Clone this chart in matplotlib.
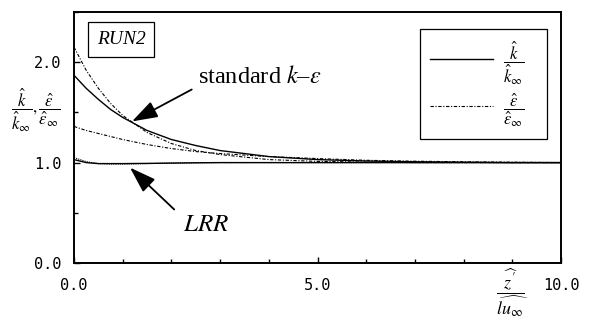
import numpy as np
import matplotlib.pyplot as plt
from matplotlib.ticker import MultipleLocator

plt.rcParams['mathtext.fontset'] = 'stix'

# distance from the wall, z'/lu_inf
x = [0, 0.25, 0.5, 0.75, 1.0, 1.5, 2.0, 2.5, 3.0, 4.0, 5.0, 6.0, 7.0, 8.0, 9.0, 10.0]

# standard k-eps model
std_k = [1.87, 1.74, 1.63, 1.53, 1.45, 1.32, 1.23, 1.17, 1.12, 1.06, 1.03, 1.016, 1.008, 1.004, 1.0, 1.0]
std_eps = [2.15, 1.92, 1.74, 1.59, 1.47, 1.30, 1.19, 1.12, 1.08, 1.03, 1.012, 1.005, 1.0, 1.0, 1.0, 1.0]
mid_eps = [1.36, 1.32, 1.29, 1.26, 1.23, 1.18, 1.14, 1.11, 1.09, 1.06, 1.04, 1.023, 1.014, 1.008, 1.004, 1.0]

# LRR model
lrr_k = [1.03, 1.0, 0.99, 0.99, 0.99, 0.992, 0.995, 0.998, 1.0, 1.0, 1.0, 1.0, 1.0, 1.0, 1.0, 1.0]
lrr_eps = [1.05, 1.01, 0.99, 0.985, 0.985, 0.99, 0.995, 0.998, 1.0, 1.0, 1.0, 1.0, 1.0, 1.0, 1.0, 1.0]

fig = plt.figure(figsize=(5.91, 3.22), dpi=100)
ax = fig.add_axes([74/591, 59/322, 487/591, 251/322])

ln_k, = ax.plot(x, std_k, color='black', lw=1.0)
ln_e, = ax.plot(x, std_eps, color='black', lw=0.8, ls=(0, (3, 1.5, 1, 1.5)))
ax.plot(x, mid_eps, color='black', lw=0.8, ls=(0, (3, 1.5, 1, 1.5)))
ax.plot(x, lrr_k, color='black', lw=1.0)
ax.plot(x, lrr_eps, color='black', lw=0.8, ls=(0, (1, 1)))

ax.set_xlim(0, 10)
ax.set_ylim(0, 2.5)
ax.xaxis.set_major_locator(MultipleLocator(5))
ax.xaxis.set_minor_locator(MultipleLocator(1))
ax.yaxis.set_major_locator(MultipleLocator(1))
ax.yaxis.set_minor_locator(MultipleLocator(0.5))
ax.tick_params(which='both', direction='in', width=1.0)
ax.tick_params(which='major', length=4)
ax.tick_params(which='minor', length=3)
ax.tick_params(axis='x', pad=11)
ax.tick_params(axis='y', pad=9)
ax.set_xticks([0, 5, 10])
ax.set_xticklabels(['0.0', '5.0', '10.0'])
ax.set_yticks([0, 1, 2])
ax.set_yticklabels(['0.0', '1.0', '2.0'])
for lab in ax.get_xticklabels() + ax.get_yticklabels():
    lab.set_fontfamily('DejaVu Sans Mono')
    lab.set_fontsize(11)
for s in ax.spines.values():
    s.set_linewidth(1.4)

# axis labels
ax.text(-0.078, 0.61, r'$\dfrac{\hat{k}}{\hat{k}_\infty},\dfrac{\hat{\varepsilon}}{\hat{\varepsilon}_\infty}$',
        transform=ax.transAxes, ha='center', va='center', fontsize=12)
ax.text(0.90, -0.12, r'$\dfrac{\widehat{z^{\prime}}}{\widehat{lu_\infty}}$',
        transform=ax.transAxes, ha='center', va='center', fontsize=13)

# run label
ax.text(0.047, 0.89, 'RUN2', transform=ax.transAxes, fontsize=14,
        family='Liberation Serif', style='italic', va='center', ha='left',
        bbox=dict(boxstyle='square,pad=0.45', fc='white', ec='black', lw=0.9))

# annotations
ax.annotate(r'standard $k$–$\varepsilon$', xy=(1.19, 1.41), xytext=(2.55, 1.85),
            fontsize=17.5, family='Liberation Serif', ha='left', va='center',
            arrowprops=dict(arrowstyle='-|>,head_length=0.9,head_width=0.3',
                            color='black', lw=1.3, shrinkA=3, shrinkB=0,
                            relpos=(0, 0.1)))
ax.annotate(r'$LRR$', xy=(1.15, 0.95), xytext=(2.24, 0.39),
            fontsize=18, ha='left', va='center',
            arrowprops=dict(arrowstyle='-|>,head_length=0.9,head_width=0.3',
                            color='black', lw=1.3, shrinkA=6, shrinkB=0,
                            relpos=(0, 0.75)))

leg = ax.legend([ln_k, ln_e],
                [r'$\dfrac{\hat{k}}{\hat{k}_\infty}$   ', r'$\dfrac{\hat{\varepsilon}}{\hat{\varepsilon}_\infty}$   '],
                loc='upper right', bbox_to_anchor=(0.971, 0.932), borderaxespad=0,
                fontsize=12, handlelength=3.8, handletextpad=0.6, labelspacing=0.25,
                borderpad=0.6, fancybox=False, framealpha=1, edgecolor='black')
leg.get_frame().set_linewidth(0.9)

fig.savefig('out.png', dpi=100)
